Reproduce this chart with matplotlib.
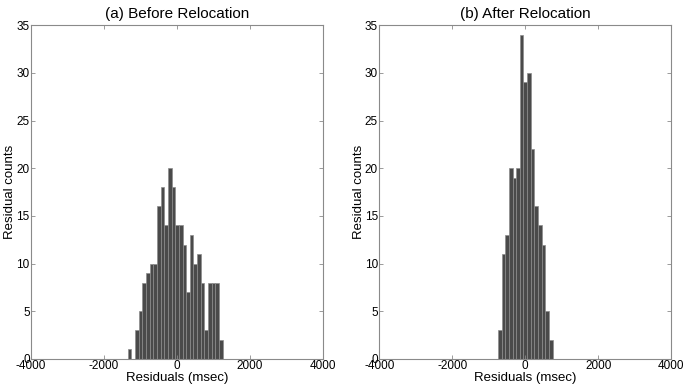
#!/usr/bin/env python
'''
    Residual histograms before and after relocation.
'''

import numpy as np
import matplotlib
matplotlib.use('Agg')
import matplotlib.pyplot as plt

plt.rcParams['font.family'] = ['Liberation Sans', 'DejaVu Sans']
plt.rcParams['axes.unicode_minus'] = False

# Bin centres (msec), 100 msec wide bins.
centers_before = np.arange(-1300, 1300, 100)
counts_before = [1, 0, 3, 5, 8, 9, 10, 10, 16, 18, 14, 20, 18,
                 14, 14, 12, 7, 13, 10, 11, 8, 3, 8, 8, 8, 2]

centers_after = np.arange(-700, 800, 100)
counts_after = [3, 11, 13, 20, 19, 20, 34, 29, 30, 22, 16, 14, 12, 5, 2]

titles = ['(a) Before Relocation', '(b) After Relocation']
xticks = [-4000, -2000, 0, 2000, 4000]
yticks = [0, 5, 10, 15, 20, 25, 30, 35]

BAR = '#4a4a4a'
EDGE = '#8c8c8c'
AXIS = '#8a8a8a'

fig = plt.figure(figsize=(6.85, 3.9), dpi=100)
ax_a = fig.add_axes([0.0453, 0.0795, 0.4263, 0.856])
ax_b = fig.add_axes([0.5537, 0.0795, 0.4263, 0.856])

for ax, centers, counts, title in [(ax_a, centers_before, counts_before, titles[0]),
                                   (ax_b, centers_after, counts_after, titles[1])]:
    ax.bar(centers, counts, width=100, color=BAR, edgecolor=EDGE, linewidth=0.5)
    ax.set_xlim(-4000, 4000)
    ax.set_ylim(0, 35)
    ax.set_xticks(xticks)
    ax.set_yticks(yticks)
    ax.tick_params(direction='in', length=3, width=0.6, color=AXIS,
                   labelsize=8.5, top=True, right=True, pad=1)
    for s in ax.spines.values():
        s.set_color(AXIS)
        s.set_linewidth(0.8)
    ax.set_title(title, fontsize=11, pad=5)
    ax.set_xlabel('Residuals (msec)', fontsize=9.5, labelpad=0)
    ax.set_ylabel('Residual counts', fontsize=9.5)
    ax.yaxis.set_label_coords(-0.05, 0.5)

fig.savefig('out.png', dpi=100)
